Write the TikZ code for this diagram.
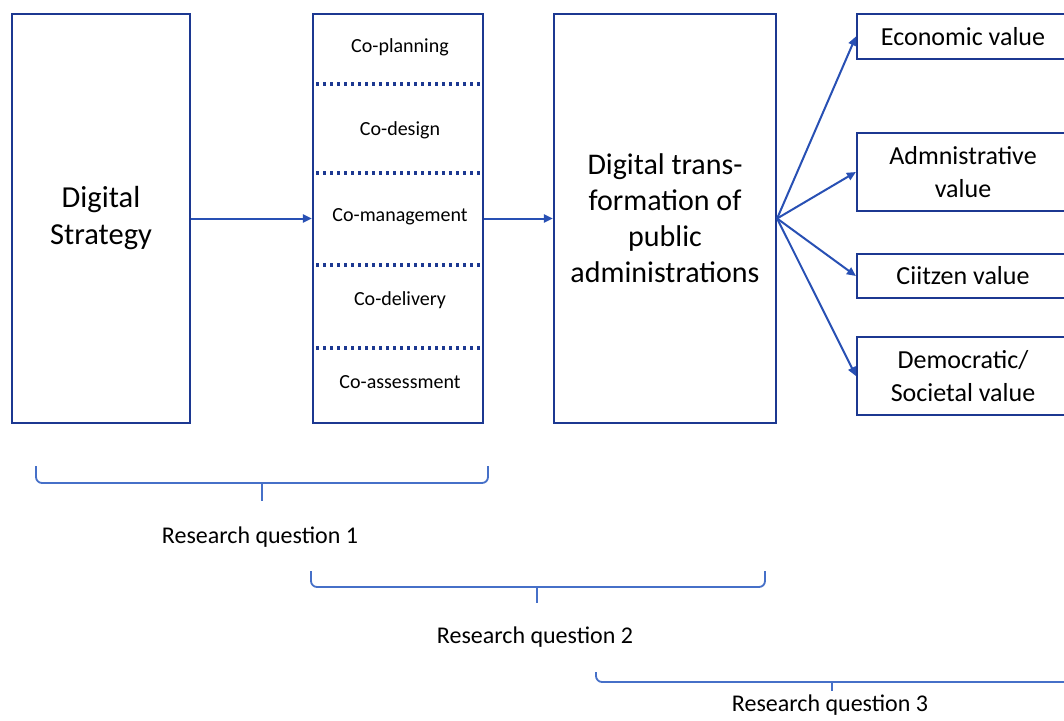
\documentclass[tikz,border=0pt]{standalone}
\usepackage{fontspec}
\setmainfont{Carlito}
\usetikzlibrary{arrows.meta}
\definecolor{boxblue}{RGB}{28,56,145}
\definecolor{arrowblue}{RGB}{40,80,180}
\definecolor{braceblue}{RGB}{70,112,200}
\tikzset{
  bigbox/.style={draw=boxblue, line width=2.2pt, rectangle, inner sep=2pt, align=center, text=black},
  valbox/.style={draw=boxblue, line width=2.2pt, rectangle, minimum width=212pt, align=center, text=black, font=\fontsize{26}{33}\selectfont},
  conn/.style={draw=arrowblue, line width=2pt, -{Triangle[length=9pt,width=8pt]}},
  dotline/.style={draw=boxblue, line width=3.2pt, dash pattern=on 3pt off 4pt},
  cotext/.style={font=\fontsize{20}{22}\selectfont, text=black},
  brace/.style={draw=braceblue, line width=1.8pt, rounded corners=6pt},
  tick/.style={draw=braceblue, line width=1.8pt},
  rqtext/.style={font=\fontsize{24}{26}\selectfont, text=black, anchor=base}
}
\begin{document}
\begin{tikzpicture}[x=1pt, y=-1pt]
\useasboundingbox (0,0) rectangle (1064,720);
\fill[white] (0,0) rectangle (1064,720);

% main boxes
\node[bigbox, minimum width=178pt, minimum height=409pt, font=\fontsize{30.5}{37}\selectfont] (ds) at (101,218.5) {Digital\\Strategy};
\node[bigbox, minimum width=170pt, minimum height=409pt] (mid) at (398,218.5) {};
\node[bigbox, minimum width=222pt, minimum height=409pt, font=\fontsize{30}{36}\selectfont] (dt) at (665,218.5) {Digital trans-\\formation of\\public\\administrations};

% dotted separators
\draw[dotline] (316,84) -- (481,84);
\draw[dotline] (316,173) -- (481,173);
\draw[dotline] (316,265) -- (481,265);
\draw[dotline] (316,348) -- (481,348);

% co- texts
\node[cotext] (cp) at (400,47) {Co-planning};
\node[cotext] (cd) at (400,130) {Co-design};
\node[cotext] (cm) at (400,217) {Co-management};
\node[cotext] (cdl) at (400,300) {Co-delivery};
\node[cotext] (ca) at (400,382) {Co-assessment};

% value boxes
\node[valbox, minimum height=45pt] (eco) at (963,36.5) {Economic value};
\node[valbox, minimum height=78pt] (adm) at (963,172) {Admnistrative\\value};
\node[valbox, minimum height=44pt] (cit) at (963,276) {Ciitzen value};
\node[valbox, minimum height=78pt] (dem) at (963,376) {Democratic/\\Societal value};

% connectors
\draw[conn] (ds.east) -- (mid.west);
\draw[conn] (mid.east) -- (dt.west);
\coordinate (fan) at (dt.east);
\draw[conn] (fan) -- (eco.west);
\draw[conn] (fan) -- (adm.west);
\draw[conn] (fan) -- (cit.west);
\draw[conn] (fan) -- (dem.west);

% braces
\draw[brace] (36,466) -- (36,483) -- (488,483) -- (488,466);
\draw[tick] (262,483) -- (262,501);
\node[rqtext] (rq1) at (260,543) {Research question 1};

\draw[brace] (311,571) -- (311,587) -- (765,587) -- (765,571);
\draw[tick] (537,587) -- (537,603);
\node[rqtext] (rq2) at (535,643) {Research question 2};

\draw[brace] (596,672) -- (596,682) -- (1080,682);
\draw[tick] (832,682) -- (832,691);
\node[rqtext] (rq3) at (830,711.5) {Research question 3};
\end{tikzpicture}
\end{document}
